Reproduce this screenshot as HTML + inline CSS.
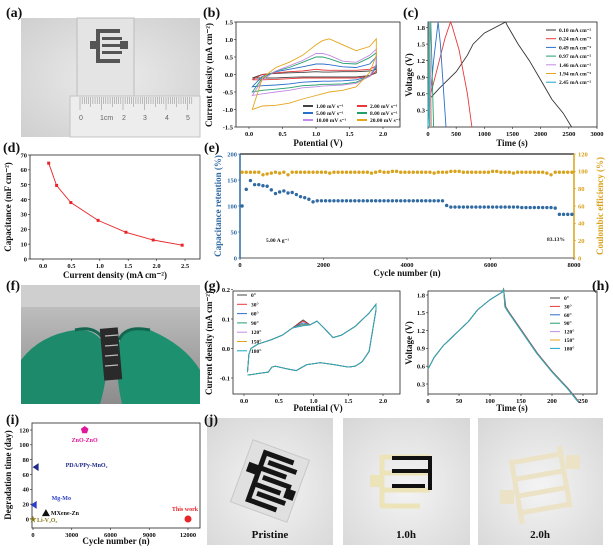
<!DOCTYPE html>
<html><head><meta charset="utf-8"><style>
html,body{margin:0;padding:0;background:#fff;width:613px;height:552px;overflow:hidden}
svg{display:block;font-family:"Liberation Serif",serif;font-weight:bold}
</style></head><body>
<svg id="fig" width="613" height="552" viewBox="0 0 613 552">
<defs>
<radialGradient id="gA" cx="0.5" cy="0.5" r="0.7"><stop offset="0" stop-color="#ececec"/><stop offset="1" stop-color="#cfcfcf"/></radialGradient>
<linearGradient id="gF" x1="0" y1="0" x2="0" y2="1"><stop offset="0" stop-color="#c9c9c9"/><stop offset="0.5" stop-color="#a9a9a9"/><stop offset="1" stop-color="#8c8c8c"/></linearGradient>
<radialGradient id="gJ" cx="0.5" cy="0.55" r="0.75"><stop offset="0" stop-color="#f4f4f4"/><stop offset="1" stop-color="#d6d6d6"/></radialGradient>
</defs>
<!-- photo a -->
<g>
<rect x="21" y="18" width="179" height="119" fill="url(#gA)"/>
<rect x="77" y="18" width="57" height="80" fill="#e4e4e4" stroke="#bdbdbd" stroke-width="1"/>
<g fill="#555">
<rect x="96" y="29" width="24" height="4"/><rect x="96" y="29" width="4" height="34"/><rect x="96" y="59" width="24" height="4"/>
<rect x="102" y="37" width="20" height="3"/><rect x="102" y="44" width="20" height="3"/><rect x="102" y="51" width="20" height="3"/>
<rect x="90" y="41" width="8" height="8"/><rect x="120" y="41" width="8" height="8"/>
</g>
<rect x="70" y="96" width="130" height="41" fill="#ededed" stroke="#c4c4c4"/>
<g stroke="#888" stroke-width="0.5" id="rulerTicks"></g>
<g font-family="Liberation Sans" font-weight="normal" font-size="7" fill="#666">
<text x="79" y="120">0</text><text x="100" y="120">1cm</text><text x="122" y="120">2</text><text x="143" y="120">3</text><text x="165" y="120">4</text><text x="186" y="120">5</text></g>
</g>
<!-- photo f -->
<g>
<rect x="21" y="285" width="179" height="119" fill="url(#gF)"/>
<rect x="21" y="285" width="179" height="22" fill="#cfcfcf"/>
<path d="M21 404 L21 360 Q40 335 75 330 Q95 328 105 345 Q110 370 100 404 Z" fill="#1c8a6b"/>
<path d="M200 404 L200 370 Q185 345 150 330 Q125 325 118 345 Q115 375 122 404 Z" fill="#1d9070"/>
<path d="M75 330 Q95 325 104 340" stroke="#136650" stroke-width="3" fill="none"/>
<path d="M150 330 Q125 325 119 340" stroke="#136650" stroke-width="3" fill="none"/>
<rect x="102" y="328" width="18" height="52" fill="#2a2a2a" transform="rotate(-5 111 354)"/>
<g stroke="#bbb" stroke-width="1.2"><line x1="105" y1="336" x2="118" y2="335"/><line x1="105" y1="346" x2="118" y2="345"/><line x1="105" y1="356" x2="118" y2="355"/><line x1="105" y1="366" x2="118" y2="365"/></g>
</g>
<!-- photos j -->
<g>
<rect x="207" y="418" width="126" height="127" fill="url(#gJ)"/>
<rect x="240" y="448" width="60" height="66" fill="#e0e0e0" stroke="#c8c8c8" transform="rotate(20 270 481)"/>
<g transform="rotate(20 270 481)" fill="none" stroke="#151515" stroke-width="5">
<path d="M286 456 L256 456 L256 506 L286 506"/><path d="M256 472 L284 472"/><path d="M256 489 L284 489"/>
<path d="M262 464 L292 464"/><path d="M262 480 L292 480"/><path d="M262 497 L292 497"/></g>
<rect x="244" y="470" width="10" height="10" fill="#151515" transform="rotate(20 270 481)"/>
<rect x="288" y="482" width="10" height="10" fill="#151515" transform="rotate(20 270 481)"/>
</g>
<g>
<rect x="343" y="418" width="127" height="127" fill="url(#gJ)"/>
<g fill="none" stroke="#ede3b8" stroke-width="5"><path d="M382 455 L382 508"/><path d="M382 457 L430 457"/><path d="M382 473 L430 473"/><path d="M382 490 L430 490"/><path d="M382 506 L420 506"/></g>
<g fill="none" stroke="#111" stroke-width="4"><path d="M392 458 L430 458"/><path d="M392 471 L430 471"/><path d="M392 486 L425 486"/><path d="M430 456 L430 490"/></g>
<rect x="370" y="475" width="10" height="12" fill="#ede3b8"/>
</g>
<g>
<rect x="478" y="418" width="125" height="127" fill="url(#gJ)"/>
<g fill="none" stroke="#ece2c6" stroke-width="5" transform="rotate(-10 540 480)">
<path d="M515 455 L515 520"/><path d="M565 450 L565 512"/><path d="M515 458 L565 458"/><path d="M515 475 L565 475"/><path d="M515 492 L565 492"/><path d="M515 509 L565 509"/></g>
<rect x="500" y="490" width="14" height="14" fill="#ece2c6"/><rect x="566" y="455" width="14" height="14" fill="#ece2c6"/>
</g>
<g font-size="11" fill="#111">
<text x="270" y="538" text-anchor="middle">Pristine</text>
<text x="406" y="538" text-anchor="middle">1.0h</text>
<text x="540" y="538" text-anchor="middle">2.0h</text>
</g>
<g font-size="14" fill="#111">
<text x="6" y="17">(a)</text>
<text x="203" y="17">(b)</text>
<text x="403" y="17">(c)</text>
<text x="3" y="152">(d)</text>
<text x="204" y="152">(e)</text>
<text x="6" y="290">(f)</text>
<text x="204" y="290">(g)</text>
<text x="592" y="290">(h)</text>
<text x="6" y="424">(i)</text>
<text x="204" y="424">(j)</text>
</g>
</svg>
<script>
// ---------- data ----------
const cvPot = [0.05,0.2,0.4,0.6,0.8,1.0,1.1,1.2,1.4,1.6,1.8,1.9];
const cvRates = ['1.00 mV s\u207B\u00B9','2.00 mV s\u207B\u00B9','5.00 mV s\u207B\u00B9','8.00 mV s\u207B\u00B9','10.00 mV s\u207B\u00B9','20.00 mV s\u207B\u00B9'];
const cvUp1 = [-0.1,0.0,0.03,0.05,0.06,0.08,0.07,0.07,0.08,0.08,0.1,0.15];
const cvLo1 = [-0.1,-0.1,-0.1,-0.08,-0.07,-0.07,-0.07,-0.07,-0.07,-0.07,-0.03,0.05];
const cvUp2 = [-0.15,0.0,0.05,0.08,0.1,0.15,0.13,0.12,0.12,0.12,0.15,0.25];
const cvLo2 = [-0.15,-0.15,-0.14,-0.12,-0.1,-0.1,-0.1,-0.1,-0.1,-0.1,-0.05,0.1];
const cvUp5 = [-0.35,-0.05,0.08,0.15,0.22,0.3,0.3,0.28,0.22,0.2,0.3,0.5];
const cvLo5 = [-0.35,-0.32,-0.3,-0.27,-0.22,-0.2,-0.19,-0.19,-0.18,-0.15,-0.05,0.2];
const cvUp8 = [-0.5,-0.1,0.1,0.2,0.35,0.5,0.5,0.45,0.32,0.3,0.48,0.62];
const cvLo8 = [-0.5,-0.45,-0.42,-0.38,-0.32,-0.3,-0.28,-0.28,-0.27,-0.22,-0.05,0.25];
const cvUp10 = [-0.6,-0.15,0.1,0.25,0.4,0.6,0.6,0.55,0.38,0.35,0.55,0.72];
const cvLo10 = [-0.6,-0.55,-0.5,-0.45,-0.38,-0.35,-0.33,-0.32,-0.3,-0.25,-0.05,0.3];
const cvUp20 = [-1.0,-0.1,0.2,0.35,0.55,0.85,0.97,1.02,0.85,0.68,0.8,1.02];
const cvLo20 = [-1.0,-0.9,-0.88,-0.82,-0.7,-0.6,-0.55,-0.5,-0.45,-0.35,0.05,0.55];

const gcdLabels = ['0.10 mA cm\u207B\u00B2','0.24 mA cm\u207B\u00B2','0.49 mA cm\u207B\u00B2','0.97 mA cm\u207B\u00B2','1.46 mA cm\u207B\u00B2','1.94 mA cm\u207B\u00B2','2.45 mA cm\u207B\u00B2'];
const gcdT1 = [0,20,200,500,700,800,1000,1380,1400,1600,1800,2000,2200,2400,2550];
const gcdV1 = [0.3,0.5,0.7,1.0,1.3,1.5,1.7,1.9,1.85,1.5,1.2,0.85,0.5,0.25,0.0];
const gcdT2 = [0,50,200,300,400,420,550,700,780];
const gcdV2 = [0.2,0.6,1.2,1.6,1.9,1.85,1.4,0.6,0.0];
const gcdT3 = [0,100,180,220,320];
const gcdV3 = [0.1,1.2,1.9,1.5,0.0];
const gcdT4 = [0,50,100];  const gcdV4 = [0,1.9,0];
const gcdT5 = [0,30,60];   const gcdV5 = [0,1.9,0];
const gcdT6 = [0,20,40];   const gcdV6 = [0,1.9,0];
const gcdT7 = [0,12,25];   const gcdV7 = [0,1.9,0];

const capCurrent = [0.10,0.24,0.49,0.97,1.46,1.94,2.45];
const capValue = [64.5,49.5,38,26,18,12.8,9.3];

const cycCycles = [50,150,250,350,450,550,650,750,850,950,1050,1150,1250,1350,1450,1550,1650,1750,1850,1950,2050,2150,2250,2350,2450,2550,2650,2750,2850,2950,3050,3150,3250,3350,3450,3550,3650,3750,3850,3950,4050,4150,4250,4350,4450,4550,4650,4750,4850,4950,5050,5150,5250,5350,5450,5550,5650,5750,5850,5950,6050,6150,6250,6350,6450,6550,6650,6750,6850,6950,7050,7150,7250,7350,7450,7550,7650,7750,7850,7950];
const cycRetention = [100,132,149,141,141,139,138,131,124,127,129,125,126,122,118,116,113,108,110,110,110,110,110,110,110,110,110,110,110,110,110,110,110,110,110,110,110,110,110,110,110,110,110,110,110,110,110,110,110,101,98,98,98,98,98,98,98,98,98,98,98,98,98,98,98,98,98,97,97,97,97,97,97,97,97,96,84,84,84,84];
const cycEfficiency = [99,99,99,99,99,96,97,98,99,98,99,96,99,99,99,99,99,99,99,99,99,98,99,99,99,99,99,99,99,99,99,98,99,100,99,99,100,100,99,99,99,99,99,99,99,99,98,99,99,99,100,100,100,99,99,99,99,99,99,99,100,100,99,99,99,98,99,99,99,99,99,99,99,98,96,99,99,99,99,99];

const angLabels = ['0\u00B0','30\u00B0','60\u00B0','90\u00B0','120\u00B0','150\u00B0','180\u00B0'];
const angPot = [0.05,0.07,0.1,0.2,0.4,0.55,0.7,0.85,0.95,1.05,1.15,1.28,1.4,1.6,1.8,1.9];
const angUp = [-0.08,-0.02,0.0,0.015,0.03,0.045,0.07,0.085,0.08,0.093,0.07,0.037,0.045,0.075,0.12,0.15];
const angLoPot = [1.9,1.8,1.7,1.6,1.5,1.3,1.1,0.9,0.75,0.6,0.45,0.4,0.35,0.2,0.05];
const angLo = [0.13,-0.01,-0.045,-0.06,-0.063,-0.055,-0.048,-0.055,-0.075,-0.068,-0.06,-0.063,-0.08,-0.085,-0.09];
const angPeak = [0.097,0.093,0.087,0.082,0.079,0.078,0.077];

const hTime = [0,10,25,40,55,65,80,100,120,122,124,130,150,175,200,225,242];
const hVolt = [0.55,0.75,0.95,1.1,1.25,1.35,1.55,1.72,1.85,1.9,1.6,1.5,1.2,0.82,0.5,0.22,0.0];
const hShift = [1.5,1.0,0.5,0.3,0.2,0.1,0];

const degNames = ['ZnO-ZnO','PDA/PPy-MnO\u2082','Mg-Mo','MXene-Zn','Li-V\u2082O\u2085','This work'];
const degCycles = [4000,200,50,1000,0,12000];
const degDays = [120,70,19,8,0,0];

// ---------- helpers ----------
const NS='http://www.w3.org/2000/svg';
const svg=document.getElementById('fig');
function mk(parent,tag,attrs,name){
  const e=document.createElementNS(NS,tag);
  for(const k in attrs) e.setAttribute(k,attrs[k]);
  
  
  parent.appendChild(e);return e;
}
function tx(parent,x,y,s,size,name,extra){
  const a=Object.assign({x:x,y:y,'font-size':size,fill:'#111'},extra||{});
  const t=mk(parent,'text',a,name);t.textContent=s;return t;
}
function lin(d0,d1,r0,r1){return v=>r0+(v-d0)*(r1-r0)/(d1-d0);}
function path(xs,ys,sx,sy){return xs.map((v,i)=>(i?'L':'M')+sx(v).toFixed(1)+' '+sy(ys[i]).toFixed(1)).join(' ');}
function frame(g,x0,y0,x1,y1,name){mk(g,'rect',{x:x0,y:y0,width:x1-x0,height:y1-y0,fill:'none',stroke:'#222','stroke-width':0.8},name);}
function xticks(g,vals,labels,sx,y,name,fs){
  vals.forEach((v,i)=>{const x=sx(v);
    mk(g,'line',{x1:x,x2:x,y1:y,y2:y+2,stroke:'#222','stroke-width':0.6},name+'-tick');
    tx(g,x,y+9,labels[i],fs||6.5,name+'-label',{'text-anchor':'middle'});});
}
function yticks(g,vals,labels,sy,x,name,color,right,fs){
  vals.forEach((v,i)=>{const y=sy(v);
    mk(g,'line',{x1:x,x2:right?x+2:x-2,y1:y,y2:y,stroke:color||'#222','stroke-width':0.6},name+'-tick');
    tx(g,right?x+4:x-3,y+2.3,labels[i],fs||6.5,name+'-label',{'text-anchor':right?'start':'end',fill:color||'#111'});});
}
function vtitle(g,x,y,s,size,name,color){
  tx(g,0,0,s,size,name,{'text-anchor':'middle',transform:'translate('+x+','+y+') rotate(-90)',fill:color||'#111'});
}
// ruler ticks
const rt=document.getElementById('rulerTicks');
for(let i=0;i<=52;i++){const x=80+i*2.15;mk(rt,'line',{x1:x,x2:x,y1:97,y2:i%10==0?110:(i%5==0?107:104)},'ruler-tick');}

// ---------- (b) CV ----------
(function(){
  const g=mk(svg,'g',{},'chart-b-cv');
  const sx=lin(0,2,249,383), sy=lin(-1.5,1.5,127,22);
  frame(g,236,22,400,127,'plot-frame-b');
  xticks(g,[0,0.5,1,1.5,2],['0.0','0.5','1.0','1.5','2.0'],sx,127,'x-axis-b');
  yticks(g,[-1.5,-1,-0.5,0,0.5,1,1.5],['-1.5','-1.0','-0.5','0.0','0.5','1.0','1.5'],sy,236,'y-axis-b');
  tx(g,318,146,'Potential (V)',9,'x-axis-title-b',{'text-anchor':'middle'});
  vtitle(g,212,75,'Current density (mA cm\u207B\u00B2)',9,'y-axis-title-b');
  const ups=[cvUp1,cvUp2,cvUp5,cvUp8,cvUp10,cvUp20], los=[cvLo1,cvLo2,cvLo5,cvLo8,cvLo10,cvLo20];
  const cols=['#444','#e8383b','#2a6fc9','#22a06b','#c38be6','#e5a51c'];
  ups.forEach((u,i)=>{
    const d=path(cvPot,u,sx,sy)+' '+path(cvPot.slice().reverse(),los[i].slice().reverse(),sx,sy).replace('M','L')+' Z';
    mk(g,'path',{d:d,fill:'none',stroke:cols[i],'stroke-width':0.9},'cv-curve-'+i);
  });
  cvRates.forEach((s,i)=>{const col=i%2,row=Math.floor(i/2);
    const x=col?357:303,y=106+row*7;
    mk(g,'line',{x1:x,x2:x+10,y1:y,y2:y,stroke:cols[i],'stroke-width':2},'legend-swatch-b');
    tx(g,x+13,y+2,s,5.5,'legend-entry-b');});
})();

// ---------- (c) GCD ----------
(function(){
  const g=mk(svg,'g',{},'chart-c-gcd');
  const sx=lin(0,3000,428,597), sy=lin(0,1.9,127,22);
  frame(g,428,22,597,127,'plot-frame-c');
  xticks(g,[0,500,1000,1500,2000,2500,3000],['0','500','1000','1500','2000','2500','3000'],sx,127,'x-axis-c');
  yticks(g,[0.3,0.6,0.9,1.2,1.5,1.8],['0.3','0.6','0.9','1.2','1.5','1.8'],sy,428,'y-axis-c');
  tx(g,512,146,'Time (s)',9,'x-axis-title-c',{'text-anchor':'middle'});
  vtitle(g,412,75,'Voltage (V)',9,'y-axis-title-c');
  const T=[gcdT1,gcdT2,gcdT3,gcdT4,gcdT5,gcdT6,gcdT7], V=[gcdV1,gcdV2,gcdV3,gcdV4,gcdV5,gcdV6,gcdV7];
  const cols=['#333','#e8383b','#2a6fc9','#22a06b','#c38be6','#e5a51c','#1aa6c4'];
  T.forEach((t,i)=>mk(g,'path',{d:path(t,V[i],sx,sy),fill:'none',stroke:cols[i],'stroke-width':0.9},'gcd-curve-'+i));
  gcdLabels.forEach((s,i)=>{const y=30+i*8.7;
    mk(g,'line',{x1:546,x2:556,y1:y,y2:y,stroke:cols[i],'stroke-width':1},'legend-swatch-c');
    tx(g,559,y+2,s,5.5,'legend-entry-c');});
})();

// ---------- (d) capacitance ----------
(function(){
  const g=mk(svg,'g',{},'chart-d-capacitance');
  const sx=lin(0,2.5,43,185), sy=lin(0,70,259,155);
  frame(g,30,155,200,259,'plot-frame-d');
  xticks(g,[0,0.5,1,1.5,2,2.5],['0.0','0.5','1.0','1.5','2.0','2.5'],sx,259,'x-axis-d');
  yticks(g,[0,10,20,30,40,50,60,70],['0','10','20','30','40','50','60','70'],sy,30,'y-axis-d');
  tx(g,115,278,'Current density (mA cm\u207B\u00B2)',9,'x-axis-title-d',{'text-anchor':'middle'});
  vtitle(g,11,207,'Capacitance (mF cm\u207B\u00B2)',9,'y-axis-title-d');
  mk(g,'path',{d:path(capCurrent,capValue,sx,sy),fill:'none',stroke:'#e8262a','stroke-width':0.9},'capacitance-line');
  capCurrent.forEach((c,i)=>mk(g,'rect',{x:sx(c)-1.5,y:sy(capValue[i])-1.5,width:3,height:3,fill:'#e8262a'},'capacitance-point'));
})();

// ---------- (e) cycling ----------
(function(){
  const g=mk(svg,'g',{},'chart-e-cycling');
  const sx=lin(0,8000,240,574), sy=lin(0,200,258,154), sy2=lin(0,120,258,154);
  const blue='#2f6aa3', orange='#d9a21b';
  mk(g,'line',{x1:240,x2:574,y1:154,y2:154,stroke:'#222','stroke-width':1.2},'top-spine-e');
  mk(g,'line',{x1:240,x2:574,y1:258,y2:258,stroke:'#222','stroke-width':0.8},'bottom-spine-e');
  mk(g,'line',{x1:240,x2:240,y1:154,y2:258,stroke:blue,'stroke-width':1.5},'left-spine-e');
  mk(g,'line',{x1:574,x2:574,y1:154,y2:258,stroke:orange,'stroke-width':1.5},'right-spine-e');
  xticks(g,[0,2000,4000,6000,8000],['0','2000','4000','6000','8000'],sx,258,'x-axis-e');
  yticks(g,[0,50,100,150,200],['0','50','100','150','200'],sy,240,'y-axis-left-e',blue);
  yticks(g,[0,20,40,60,80,100,120],['0','20','40','60','80','100','120'],sy2,574,'y-axis-right-e',orange,true);
  tx(g,407,276,'Cycle number (n)',9,'x-axis-title-e',{'text-anchor':'middle'});
  vtitle(g,221,206,'Capacitance retention (%)',9,'y-axis-title-left-e',blue);
  vtitle(g,603,206,'Coulombic efficiency (%)',9,'y-axis-title-right-e',orange);
  cycCycles.forEach((c,i)=>{
    mk(g,'circle',{cx:sx(c),cy:sy2(cycEfficiency[i]),r:1.7,fill:orange},'efficiency-point');
    mk(g,'circle',{cx:sx(c),cy:sy(cycRetention[i]),r:1.7,fill:blue},'retention-point');
  });
  tx(g,266,242,'5.00 A g\u207B\u00B9',5.5,'current-annotation-e');
  tx(g,547,241,'83.13%',5.5,'retention-annotation-e');
})();

// ---------- (g) bending CV ----------
(function(){
  const g=mk(svg,'g',{},'chart-g-bending-cv');
  const sx=lin(0,2,244,383), sy=lin(-0.1,0.1,378,319);
  frame(g,233,291,400,394,'plot-frame-g');
  xticks(g,[0,0.5,1,1.5,2],['0.0','0.5','1.0','1.5','2.0'],sx,394,'x-axis-g');
  yticks(g,[-0.1,0,0.1,0.2],['-0.1','0.0','0.1','0.2'],sy,233,'y-axis-g');
  tx(g,318,411,'Potential (V)',9,'x-axis-title-g',{'text-anchor':'middle'});
  vtitle(g,212,343,'Current density (mA cm\u207B\u00B2)',9,'y-axis-title-g');
  const cols=['#444','#e8383b','#2a6fc9','#22a06b','#c38be6','#e5a51c','#1aa6c4'];
  angPeak.forEach((p,i)=>{
    const up=angUp.slice();up[7]=p;
    const d=path(angPot,up,sx,sy)+' '+path(angLoPot,angLo,sx,sy).replace('M','L');
    mk(g,'path',{d:d,fill:'none',stroke:cols[i],'stroke-width':0.9},'bending-cv-curve-'+i);
  });
  angLabels.forEach((s,i)=>{const y=295+i*9.3;
    mk(g,'line',{x1:237,x2:247,y1:y,y2:y,stroke:cols[i],'stroke-width':1},'legend-swatch-g');
    tx(g,251,y+2,s,5.5,'legend-entry-g');});
})();

// ---------- (h) bending GCD ----------
(function(){
  const g=mk(svg,'g',{},'chart-h-bending-gcd');
  const sx=lin(0,250,428,583), sy=lin(0.3,1.8,384,295);
  frame(g,428,291,597,394,'plot-frame-h');
  xticks(g,[0,50,100,150,200,250],['0','50','100','150','200','250'],sx,394,'x-axis-h');
  yticks(g,[0.3,0.6,0.9,1.2,1.5,1.8],['0.3','0.6','0.9','1.2','1.5','1.8'],sy,428,'y-axis-h');
  tx(g,512,411,'Time (s)',9,'x-axis-title-h',{'text-anchor':'middle'});
  vtitle(g,412,343,'Voltage (V)',9,'y-axis-title-h');
  const cols=['#444','#e8383b','#2a6fc9','#22a06b','#c38be6','#e5a51c','#1aa6c4'];
  hShift.forEach((s,i)=>{
    const t=hTime.map((v,k)=>k>9?v+s:v);
    mk(g,'path',{d:path(t,hVolt,sx,sy),fill:'none',stroke:cols[i],'stroke-width':0.9},'bending-gcd-curve-'+i);
  });
  angLabels.forEach((s,i)=>{const y=298+i*8.4;
    mk(g,'line',{x1:550,x2:560,y1:y,y2:y,stroke:cols[i],'stroke-width':1},'legend-swatch-h');
    tx(g,564,y+2,s,5.5,'legend-entry-h');});
})();

// ---------- (i) degradation ----------
(function(){
  const g=mk(svg,'g',{},'chart-i-degradation');
  const sx=lin(0,12000,33,188), sy=lin(0,120,519,430);
  frame(g,32,423,200,528,'plot-frame-i');
  xticks(g,[0,3000,6000,9000,12000],['0','3000','6000','9000','12000'],sx,528,'x-axis-i');
  yticks(g,[0,20,40,60,80,100,120],['0','20','40','60','80','100','120'],sy,32,'y-axis-i');
  tx(g,116,544,'Cycle number (n)',9,'x-axis-title-i',{'text-anchor':'middle'});
  vtitle(g,11,475,'Degradation time (day)',9,'y-axis-title-i');
  const cols=['#e0189c','#1f2b8a','#2a3fc9','#111','#8a7a1a','#e8262a'];
  const lx=[0,30,18,5,4,-3], ly=[12,0,-5,2,3,-8], anc=['middle','start','start','start','start','middle'];
  degCycles.forEach((c,i)=>{const x=sx(c),y=sy(degDays[i]);
    let shape;
    if(i==0) shape=mk(g,'polygon',{points:[0,1,2,3,4].map(k=>{const a=-Math.PI/2+k*2*Math.PI/5;return (x+4*Math.cos(a)).toFixed(1)+','+(y+4*Math.sin(a)).toFixed(1);}).join(' '),fill:cols[i]},'marker-'+i);
    else if(i==1||i==2) shape=mk(g,'polygon',{points:(x-3)+','+y+' '+(x+3)+','+(y-4)+' '+(x+3)+','+(y+4),fill:cols[i]},'marker-'+i);
    else if(i==3) shape=mk(g,'polygon',{points:(x)+','+(y-4)+' '+(x-4)+','+(y+3)+' '+(x+4)+','+(y+3),fill:cols[i]},'marker-'+i);
    else if(i==4) { const t=tx(g,x,y+3,'\u2605',8,'marker-'+i,{'text-anchor':'middle',fill:cols[i]}); }
    else mk(g,'circle',{cx:x,cy:y,r:3.5,fill:cols[i]},'marker-'+i);
    tx(g,x+lx[i],y+ly[i],degNames[i],6,'point-label-i',{'text-anchor':anc[i],fill:cols[i]});
  });
})();
</script>
</body></html>
